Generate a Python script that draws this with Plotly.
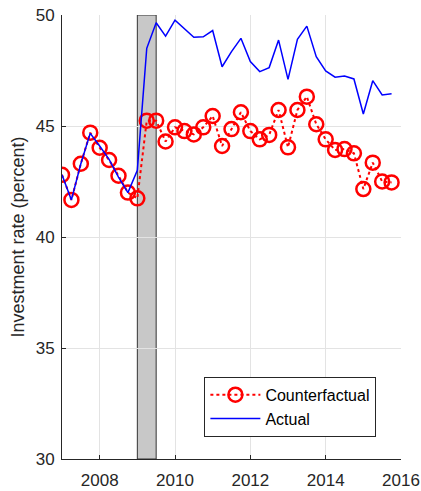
import plotly.graph_objects as go

quarters = [2007 + 0.25 * i for i in range(36)]
actual = [42.8, 41.67, 43.3, 44.67, 44.1, 43.5, 42.7, 42.0, 43.0, 48.5, 49.65, 49.05,
          49.77, 49.38, 49.0, 49.02, 49.3, 47.67, 48.35, 48.95, 47.9, 47.45, 47.63, 48.87,
          47.1, 48.9, 49.5, 48.12, 47.48, 47.2, 47.25, 47.12, 45.54, 47.04, 46.4, 46.45]
counterfactual = [42.8, 41.67, 43.3, 44.7, 44.02, 43.47, 42.76, 42.0, 41.74, 45.24, 45.24, 44.3,
                  44.94, 44.77, 44.62, 44.94, 45.45, 44.1, 44.86, 45.62, 44.77, 44.4, 44.6, 45.72,
                  44.04, 45.72, 46.32, 45.08, 44.4, 43.92, 43.96, 43.77, 42.16, 43.35, 42.5, 42.46]
recession = [2009.0, 2009.5]
x_ticks = [2008, 2010, 2012, 2014, 2016]
y_ticks = [30, 35, 40, 45, 50]

fig = go.Figure()
fig.add_shape(type="rect", xref="x", yref="y", x0=recession[0], x1=recession[1], y0=30, y1=50,
              fillcolor="#c8c8c8", line=dict(color="#333333", width=1), layer="below")
fig.add_trace(go.Scatter(x=quarters, y=counterfactual, name="Counterfactual", mode="lines+markers",
                         line=dict(color="red", width=2, dash="dot"),
                         marker=dict(symbol="circle-open", size=14, color="red", line=dict(width=2.5))))
fig.add_trace(go.Scatter(x=quarters, y=actual, name="Actual", mode="lines",
                         line=dict(color="blue", width=1.5)))

font = "Liberation Sans, Arial, sans-serif"
fig.update_layout(
    width=421, height=491,
    margin=dict(l=62, r=20, t=15, b=32, autoexpand=False),
    plot_bgcolor="white", paper_bgcolor="white",
    font=dict(family=font, size=17, color="#262626"),
    showlegend=True,
    legend=dict(x=0.42, y=0.05, xanchor="left", yanchor="bottom",
                bgcolor="white", bordercolor="#262626", borderwidth=1,
                font=dict(size=16, color="#000000"), tracegroupgap=0, itemwidth=50),
    xaxis=dict(range=[2007, 2016], tickvals=x_ticks, showgrid=True, gridcolor="#e3e3e3",
               showline=True, linecolor="#262626", linewidth=1, ticks="inside", ticklen=4,
               tickcolor="#262626", zeroline=False, mirror=False, automargin=False,
               ticklabelstandoff=6),
    yaxis=dict(range=[30, 50], tickvals=y_ticks, showgrid=True, gridcolor="#e3e3e3",
               showline=True, linecolor="#262626", linewidth=1, ticks="inside", ticklen=4,
               tickcolor="#262626", zeroline=False, automargin=False, ticklabelstandoff=3,
               title=dict(text="Investment rate (percent)", font=dict(size=18), standoff=6)),
)
fig.write_html("out.html")
